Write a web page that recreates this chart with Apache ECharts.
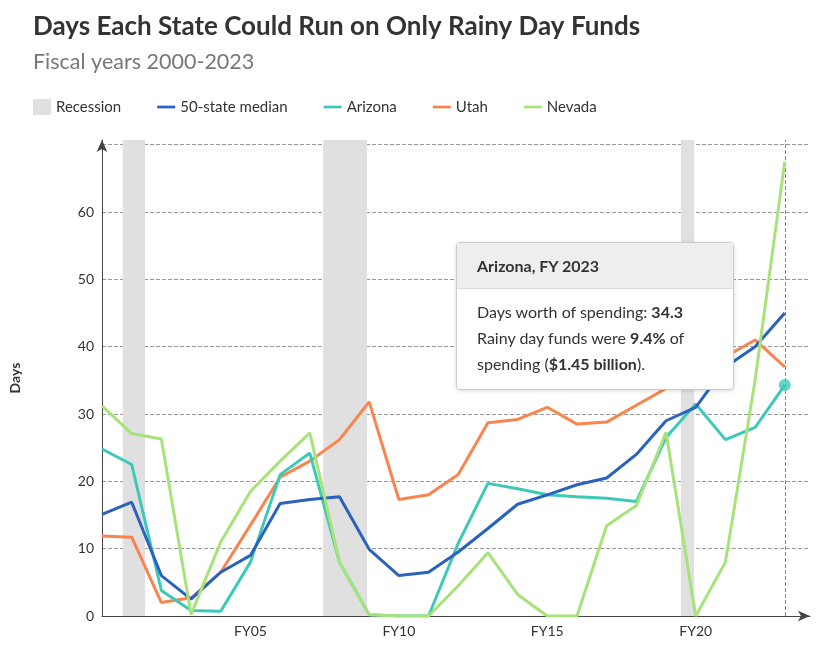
<!DOCTYPE html>
<html><head><meta charset="utf-8">
<script src="https://cdn.jsdelivr.net/npm/echarts@6/dist/echarts.min.js"></script>
<style>body{margin:0;background:#fff}#c{width:819px;height:665px}</style>
</head><body><div id="c"></div>
<script>
const years=[2000,2001,2002,2003,2004,2005,2006,2007,2008,2009,2010,2011,2012,2013,2014,2015,2016,2017,2018,2019,2020,2021,2022,2023];
const median=[15.1,16.9,6,2.5,6.5,9,16.7,17.3,17.7,9.9,6,6.5,9.5,13,16.6,18,19.5,20.5,24,29,31,37,40,45];
const arizona=[24.8,22.5,3.8,0.8,0.7,8,21,24.2,8,0.2,0,0,10.8,19.7,18.9,18,17.7,17.5,17,26.5,31.5,26.2,28,34.3];
const utah=[11.9,11.7,2,2.7,6.5,13.5,20.6,23,26.2,31.8,17.3,18,21,28.7,29.2,31,28.5,28.8,31.3,33.8,36,38.5,41,37];
const nevada=[31.2,27.1,26.3,0.2,11,18.5,23,27.2,8,0.2,0,0,4.5,9.4,3.2,0,0,13.4,16.4,27.3,0,8,35,67.5];
const recessions=[[2000.7,2001.45],[2007.45,2008.93],[2019.5,2019.95]];
const xTicks=[2005,2010,2015,2020];
const pair=a=>years.map((y,i)=>[y,a[i]]);
const font='Lato, "Open Sans", sans-serif';
const lineIcon='path://M0,0h20v3h-20z';
const chart=echarts.init(document.getElementById('c'));
const lineS=(name,data,color,z)=>({name,type:'line',data:pair(data),showSymbol:false,symbol:'none',lineStyle:{width:3,color},itemStyle:{color},z});
chart.setOption({
  animation:false,
  textStyle:{fontFamily:font},
  title:[{text:'Days Each State Could Run on Only Rainy Day Funds',left:28,top:9,textStyle:{fontSize:26,fontWeight:'bold',color:'#333',fontFamily:font}},
         {text:'Fiscal years 2000-2023',left:28,top:46,textStyle:{fontSize:21.5,fontWeight:'normal',color:'#777',fontFamily:font}}],
  legend:{left:28,top:94,itemWidth:18,itemHeight:16,itemGap:36,textStyle:{fontSize:15,color:'#333'},
    data:[{name:'Recession',icon:'rect'},{name:'50-state median',icon:lineIcon},{name:'Arizona',icon:lineIcon},{name:'Utah',icon:lineIcon},{name:'Nevada',icon:lineIcon}]},
  grid:{left:96,right:9,top:140,bottom:49},
  xAxis:{type:'value',min:2000,max:2023.85,interval:1,
    axisLine:{lineStyle:{color:'#444'},symbol:['none','arrow'],symbolSize:[8,12]},
    axisTick:{show:false},splitLine:{show:false},
    axisLabel:{fontSize:14,color:'#333',customValues:xTicks,formatter:v=>'FY'+String(v).slice(2)},
  },
  yAxis:{type:'value',min:0,max:70.7,interval:10,name:'Days',nameLocation:'middle',nameGap:80,nameTextStyle:{fontSize:14,fontWeight:'bold',color:'#333'},
    axisLine:{show:true,lineStyle:{color:'#444'},symbol:['none','arrow'],symbolSize:[8,12]},
    axisTick:{show:false},
    axisLabel:{fontSize:14,color:'#333',showMaxLabel:false,formatter:v=>v>=70?'':v},
    splitLine:{showMaxLine:false,lineStyle:{type:'dashed',color:'#999'}}},
  tooltip:{trigger:'item',alwaysShowContent:true,position:[456,242],padding:0,borderColor:'#ccc',borderWidth:1,
    extraCssText:'border-radius:4px;box-shadow:0 1px 4px rgba(0,0,0,0.15);width:276px;white-space:normal;',
    formatter:()=>'<div style="font-family:Lato,sans-serif;color:#333;white-space:normal"><div style="background:#eee;padding:12px 20px;font-size:16px;font-weight:bold;border-bottom:1px solid #ddd">Arizona, FY 2023</div><div style="padding:10px 20px 12px;font-size:16px;line-height:26px">Days worth of spending: <b>34.3</b><br>Rainy day funds were <b>9.4%</b> of spending (<b>$1.45 billion</b>).</div></div>'},
  series:[
    {name:'Recession',type:'line',data:[],itemStyle:{color:'#e0e0e0'},lineStyle:{color:'#e0e0e0'},z:1,
      markArea:{silent:true,itemStyle:{color:'#e0e0e0'},data:recessions.map(r=>[{xAxis:r[0]},{xAxis:r[1]}])},
      markLine:{silent:true,symbol:'none',label:{show:false},lineStyle:{type:'dashed',color:'#888',width:1},data:[{xAxis:2023}]}},
    lineS('50-state median',median,'#2a62c0',4),
    lineS('Arizona',arizona,'#3cc9b8',3),
    lineS('Utah',utah,'#f9844e',2),
    lineS('Nevada',nevada,'#a8e27a',5),
    {name:'AZpt',type:'scatter',data:[[2023,arizona[23]]],symbolSize:12,itemStyle:{color:'#3cc9b8'},z:6,tooltip:{show:true}}
  ]
});
chart.dispatchAction({type:'showTip',seriesIndex:5,dataIndex:0});
</script></body></html>
